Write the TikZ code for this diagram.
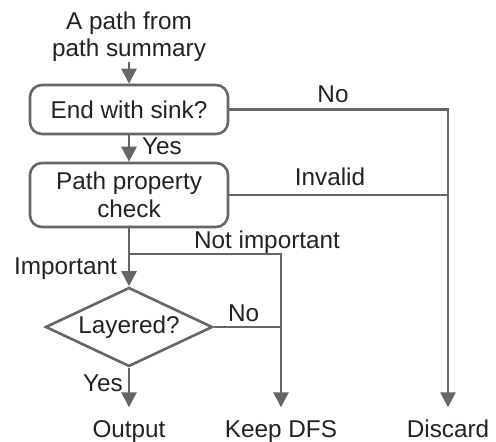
\documentclass[tikz,border=0pt]{standalone}
\usepackage{fontspec}
\setmainfont{Liberation Sans}
\usetikzlibrary{shapes.geometric,arrows.meta}
\definecolor{linegray}{RGB}{102,102,102}
\definecolor{textgray}{RGB}{34,34,34}
\begin{document}
\begin{tikzpicture}[x=1pt,y=-1pt,
  every node/.style={text=textgray,font=\fontsize{24.3}{27.5}\selectfont},
  conn/.style={draw=linegray,line width=2.6pt},
  arr/.style={conn,-{Triangle[length=15pt,width=15pt]}},
  procbox/.style={draw=linegray,line width=2.6pt,rounded corners=12pt,
    minimum width=198pt,align=center,inner sep=0pt},
  decision/.style={diamond,draw=linegray,line width=2.6pt,aspect=2.11,
    minimum width=167pt,minimum height=79pt,inner sep=1pt},
  lbl/.style={inner sep=0pt,anchor=base},
  sink/.style={anchor=base,inner xsep=0pt,inner ysep=12pt,
    text height=17.5pt,text depth=5pt}]
\useasboundingbox (0,0) rectangle (496,442);

% source text
\node[align=center,inner sep=0pt] (src) at (129,36.5) {A path from\\path summary};

% process boxes and decision
\node[procbox,minimum height=49pt] (sinkq) at (129,109.5) {End with sink?};
\node[procbox,minimum height=64pt] (prop) at (129,195) {Path property\\check};
\node[decision] (layer) at (129,327) {Layered?};

% terminal outcomes
\node[sink] (out) at (129,437) {Output};
\node[sink] (keep) at (281,437) {Keep DFS};
\node[sink] (disc) at (448,437) {Discard};

% junction points
\coordinate (jimp) at (129,254);
\coordinate (jno) at (layer.east -| keep);
\coordinate (jinv) at (prop.east -| disc);

% connectors
\draw[arr] (src.south) -- (sinkq.north);
\draw[arr] (sinkq.south) -- (prop.north);
\draw[arr] (prop.south) -- (layer.north);
\draw[arr] (layer.south) -- (out.north);
\draw[arr] (jimp) -| (keep.north);
\draw[conn] (layer.east) -- (jno);
\draw[arr] (sinkq.east) -| (disc.north);
\draw[conn] (prop.east) -- (jinv);

% branch labels
\node[lbl,anchor=base west] (lyes1) at (142,154) {Yes};
\node[lbl] (lno1) at (333,102) {No};
\node[lbl] (linv) at (330,185) {Invalid};
\node[lbl] (lnotimp) at (267,248) {Not important};
\node[lbl,anchor=base east] (limp) at (117,274) {Important};
\node[lbl,anchor=base west] (lno2) at (228,321) {No};
\node[lbl,anchor=base east] (lyes2) at (123,391) {Yes};
\end{tikzpicture}
\end{document}
